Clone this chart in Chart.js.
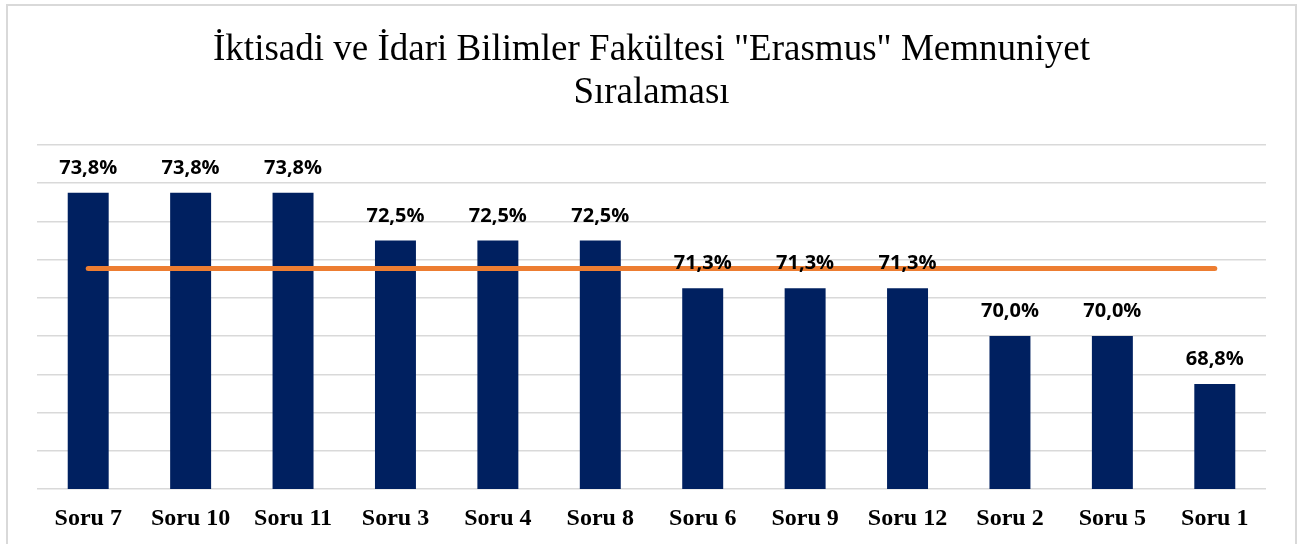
<!DOCTYPE html>
<html>
<head>
<meta charset="utf-8">
<script src="https://cdn.jsdelivr.net/npm/chart.js@4/dist/chart.umd.min.js"></script>
<style>
  html, body { margin: 0; padding: 0; background: #ffffff; }
  #wrap { width: 1303px; height: 544px; position: relative; }
</style>
</head>
<body>
<div id="wrap"><canvas id="c"></canvas></div>
<script>
const categories = ["Soru 7", "Soru 10", "Soru 11", "Soru 3", "Soru 4", "Soru 8", "Soru 6", "Soru 9", "Soru 12", "Soru 2", "Soru 5", "Soru 1"];
const satisfactionValues = [73.75, 73.75, 73.75, 72.5, 72.5, 72.5, 71.25, 71.25, 71.25, 70.0, 70.0, 68.75];
const averageValues = [71.77, 71.77, 71.77, 71.77, 71.77, 71.77, 71.77, 71.77, 71.77, 71.77, 71.77, 71.77];
const titleLines = ['İktisadi ve İdari Bilimler Fakültesi "Erasmus" Memnuniyet', 'Sıralaması'];
const yMin = 66, yMax = 75, yStep = 1;

const frameAndLabels = {
  id: 'frameAndLabels',
  beforeDraw(chart) {
    const ctx = chart.ctx;
    ctx.save();
    ctx.fillStyle = '#ffffff';
    ctx.fillRect(0, 0, chart.width, chart.height);
    ctx.strokeStyle = '#d9d9d9';
    ctx.lineWidth = 2;
    ctx.strokeRect(7, 5, 1289, 600);
    ctx.restore();
  },
  afterDatasetsDraw(chart) {
    const ctx = chart.ctx;
    const meta = chart.getDatasetMeta(1);
    ctx.save();
    ctx.font = 'bold 20px "Open Sans"';
    ctx.fillStyle = '#000000';
    ctx.textAlign = 'center';
    ctx.textBaseline = 'alphabetic';
    meta.data.forEach((bar, i) => {
      const txt = satisfactionValues[i].toFixed(1).replace('.', ',') + '%';
      ctx.fillText(txt, bar.x, bar.y - 19);
    });
    ctx.restore();
  }
};

new Chart(document.getElementById('c'), {
  data: {
    labels: categories,
    datasets: [
      {
        type: 'line',
        label: 'Ortalama',
        data: averageValues,
        borderColor: '#ED7D31',
        backgroundColor: '#ED7D31',
        borderWidth: 5,
        borderCapStyle: 'round',
        pointRadius: 0,
        pointHoverRadius: 0,
        fill: false,
        order: 0
      },
      {
        type: 'bar',
        label: 'Memnuniyet',
        data: satisfactionValues,
        backgroundColor: '#002060',
        borderWidth: 0,
        categoryPercentage: 1.0,
        barPercentage: 0.4,
        order: 1
      }
    ]
  },
  options: {
    responsive: true,
    maintainAspectRatio: false,
    animation: false,
    layout: { padding: { left: 37, right: 37, top: 0, bottom: 0 } },
    plugins: {
      legend: { display: false },
      tooltip: { enabled: false },
      title: {
        display: true,
        text: titleLines,
        color: '#000000',
        font: { family: '"Liberation Serif", "Times New Roman", serif', size: 37, weight: 'normal', lineHeight: '43px' },
        padding: { top: 28.5, bottom: 30.5 }
      }
    },
    scales: {
      x: {
        grid: { display: false, drawTicks: false },
        border: { display: false },
        afterFit(scale) { scale.height = 55; },
        ticks: {
          color: '#000000',
          padding: 15,
          font: { family: '"Liberation Serif", "Times New Roman", serif', size: 24, weight: 'bold' }
        }
      },
      y: {
        min: yMin,
        max: yMax,
        ticks: { display: false, stepSize: yStep },
        grid: { color: '#d9d9d9', lineWidth: 1.5, drawTicks: false },
        border: { display: false }
      }
    }
  },
  plugins: [frameAndLabels]
});
</script>
</body>
</html>
